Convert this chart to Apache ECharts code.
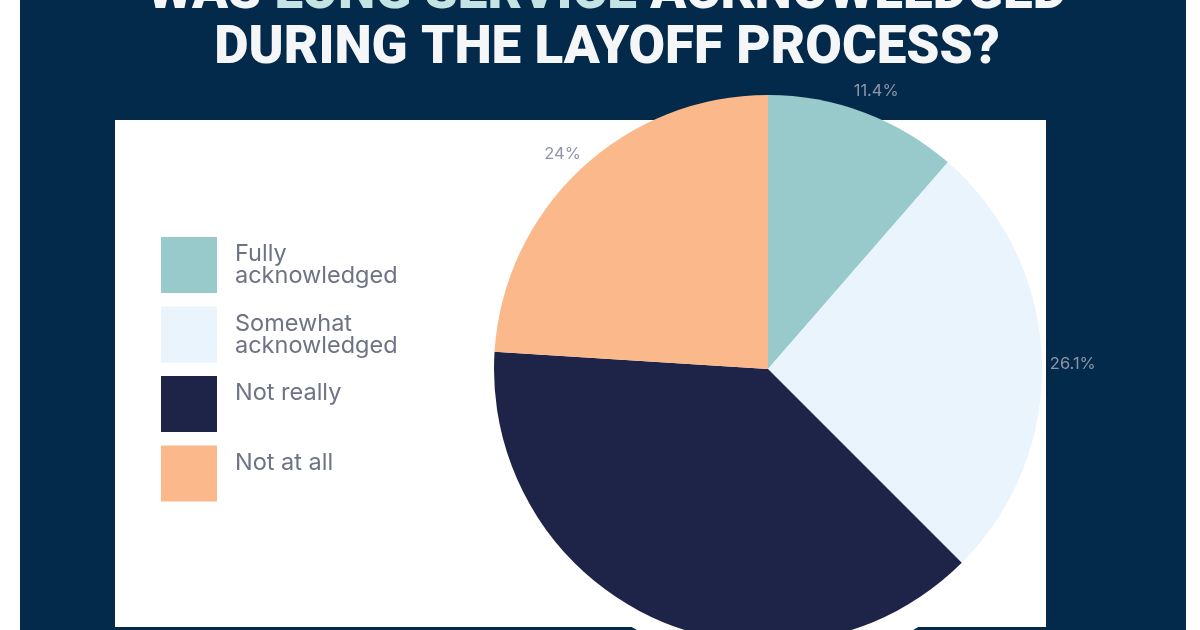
<!DOCTYPE html>
<html>
<head>
<meta charset="utf-8">
<title>Long service acknowledged</title>
<script src="https://cdn.jsdelivr.net/npm/echarts@6/dist/echarts.min.js"></script>
<style>
  html, body { margin: 0; padding: 0; background: #ffffff; }
  #chart { width: 1200px; height: 630px; }
</style>
</head>
<body>
<div id="chart"></div>
<script>
const categories = ["Fully acknowledged", "Somewhat acknowledged", "Not really", "Not at all"];
const shares = [11.4, 26.1, 38.5, 24];
const sliceColors = ["#98c9cb", "#e9f4fd", "#1e2448", "#fbb88a"];
const legendLabels = ["Fully\nacknowledged", "Somewhat\nacknowledged", "Not really\n ", "Not at all\n "];

const navy = "#032a4a";
const el = (id) => document.getElementById(id);
const chart = echarts.init(el("chart"));

const pieData = categories.map((name, i) => ({
  name,
  value: shares[i],
  itemStyle: { color: sliceColors[i] }
}));

const titleFont = { fontSize: 53, fontWeight: 900, fontFamily: "Roboto" };

chart.setOption({
  animation: false,
  graphic: [
    { type: "rect", z: 0, shape: { x: 20, y: 0, width: 1166, height: 630 }, style: { fill: navy } },
    { type: "circle", z: 1, shape: { cx: 775, cy: 375, r: 290 }, style: { fill: "#ffffff" } },
    { type: "rect", z: 2, shape: { x: 20, y: 0, width: 1166, height: 120 }, style: { fill: navy } },
    { type: "rect", z: 2, shape: { x: 1046, y: 0, width: 140, height: 630 }, style: { fill: navy } },
    { type: "rect", z: 3, shape: { x: 115, y: 120, width: 931, height: 507 }, style: { fill: "#ffffff" } },
    {
      type: "text", z: 5, x: 607, y: -5,
      style: {
        text: "{w|WAS }{t|LONG SERVICE}{w| ACKNOWLEDGED}",
        align: "center", verticalAlign: "middle",
        rich: {
          w: Object.assign({ fill: "#f4f6f8" }, titleFont),
          t: Object.assign({ fill: "#c4e3e3" }, titleFont)
        }
      }
    },
    {
      type: "text", z: 5, x: 607, y: 50,
      style: Object.assign({
        text: "DURING THE LAYOFF PROCESS?",
        fill: "#f4f6f8",
        align: "center", verticalAlign: "middle"
      }, titleFont)
    }
  ],
  legend: {
    orient: "vertical",
    left: 161,
    top: 237,
    padding: 0,
    itemWidth: 56,
    itemHeight: 56,
    itemGap: 13.5,
    icon: "rect",
    selectedMode: false,
    data: categories.map((name, i) => ({ name, itemStyle: { color: sliceColors[i] } })),
    formatter: (name) => legendLabels[categories.indexOf(name)],
    textStyle: {
      color: "#6e7385",
      fontSize: 23.5,
      lineHeight: 22,
      fontFamily: "Inter",
      padding: [0, 0, 0, 13]
    }
  },
  series: [
    {
      type: "pie",
      z: 10,
      center: [768, 369],
      radius: 274,
      startAngle: 90,
      silent: true,
      label: { show: false },
      labelLine: { show: false },
      data: pieData
    },
    {
      // transparent ring, only used to place the percentage labels
      type: "pie",
      z: 11,
      center: [768, 369],
      radius: [274, 326],
      startAngle: 90,
      silent: true,
      itemStyle: { color: "rgba(0,0,0,0)" },
      label: {
        show: true,
        position: "inside",
        rotate: 0,
        offset: [2, 6],
        formatter: (p) => p.value + "%",
        color: "#8d95a8",
        fontSize: 16.5,
        fontFamily: "Inter"
      },
      labelLine: { show: false },
      data: categories.map((name, i) => ({ name, value: shares[i] }))
    }
  ]
});
</script>
</body>
</html>
